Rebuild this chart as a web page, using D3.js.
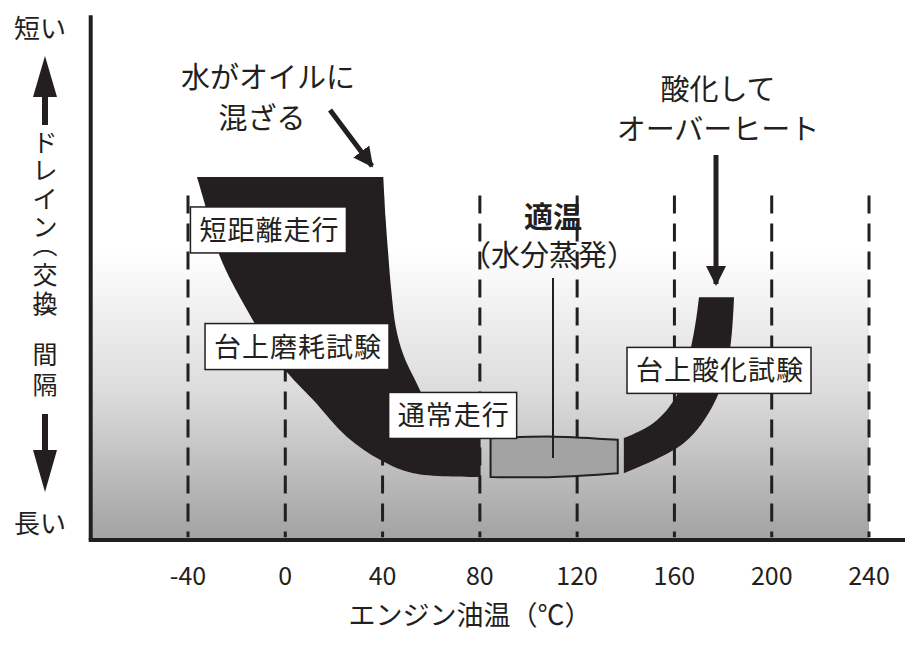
<!DOCTYPE html>
<html><head><meta charset="utf-8">
<script src="https://cdn.jsdelivr.net/npm/d3@7"></script>
<style>body{margin:0;background:#fff}text{font-family:"Noto Sans CJK JP","Noto Sans",sans-serif;fill:#231f20}</style>
</head><body><svg id="c" width="918" height="658"></svg>
<script>
const ticks=[-40,0,40,80,120,160,200,240];
const leftOuter=[[-36.3,68.5],[-31.5,61],[-26.8,53.4],[-15.7,43.4],[-0.9,32.6],[11.5,26.4],[25.5,19.4],[39.1,15.1],[52.7,12.6],[80.3,11.9]];
const leftInner=[[40.3,68.5],[41.2,61],[42.2,54.7],[43.6,47],[45.5,40],[48.5,35],[52.7,30.8],[60.9,24.0],[70,20.8],[80.3,19.4]];
const grayTop=[[84.4,19.2],[110.4,19.5],[136.7,18.9]];
const grayBottom=[[136.7,12.6],[110.4,11.9],[84.4,11.9]];
const rightOuter=[[139.2,12.6],[163.9,18.3],[176.3,25.8],[182.5,34.9],[184.5,45.8]];
const rightInner=[[170.1,45.8],[168,39.1],[161.4,27.7],[151.5,22.1],[139.2,19.2]];
const boxLabels=[{t:"短距離走行",x:-39,y:58.5},{t:"台上磨耗試験",x:-33,y:36.5},{t:"通常走行",x:42.5,y:23.5},{t:"台上酸化試験",x:140.5,y:32}];

const svg=d3.select("#c");
const x=d3.scaleLinear().domain([-40,240]).range([188,869]);
const y=d3.scaleLinear().domain([0,100]).range([540,10]);
const ink="#231f20";
const defs=svg.append("defs");
const g=defs.append("linearGradient").attr("id","bg").attr("x1",0).attr("y1",0).attr("x2",0).attr("y2",1);
g.append("stop").attr("offset","0").attr("stop-color","#fff");
g.append("stop").attr("offset","0.22").attr("stop-color","#fff");
g.append("stop").attr("offset","0.6").attr("stop-color","#dcdcdc");
g.append("stop").attr("offset","1").attr("stop-color","#a2a2a2");
svg.append("rect").attr("x",x(-80)).attr("y",y(70)).attr("width",x(240)-x(-80)).attr("height",y(0)-y(70)).attr("fill","url(#bg)");
svg.selectAll(".d").data(ticks).join("line").attr("x1",d=>x(d)).attr("x2",d=>x(d)).attr("y1",y(65)).attr("y2",y(0.5))
 .attr("stroke",ink).attr("stroke-width",3).attr("stroke-dasharray","18,10");
const line=d3.line().x(d=>x(d[0])).y(d=>y(d[1])).curve(d3.curveCatmullRom);
function band(a,b,fill,stroke){
  const p=line(a)+"L"+line(b).slice(1)+"Z";
  svg.append("path").attr("d",p).attr("fill",fill).attr("stroke",stroke||"none").attr("stroke-width",2);
}
band(leftOuter,leftInner.slice().reverse(),ink);
band(grayTop,grayBottom,"#a3a3a3",ink);
band(rightOuter,rightInner,ink);
svg.append("line").attr("x1",x(-80)).attr("x2",x(-80)).attr("y1",y(99)).attr("y2",y(0)).attr("stroke",ink).attr("stroke-width",4);
svg.append("line").attr("x1",x(-80)-2).attr("x2",905).attr("y1",y(0)).attr("y2",y(0)).attr("stroke",ink).attr("stroke-width",4);
svg.selectAll(".t").data(ticks).join("text").attr("x",d=>x(d)).attr("y",585).attr("text-anchor","middle").attr("font-size",25).text(d=>d);
svg.append("text").attr("x",470).attr("y",625).attr("text-anchor","middle").attr("font-size",27).text("エンジン油温（℃）");
const labG=svg.append("g");
boxLabels.forEach(b=>{
  const r=labG.append("rect");
  const t=labG.append("text").attr("x",x(b.x)+9).attr("y",y(b.y)+10).attr("font-size",27).attr("letter-spacing",1).text(b.t);
  const bb=t.node().getBBox();
  r.attr("x",bb.x-9).attr("y",y(b.y)-23).attr("width",bb.width+16).attr("height",46)
   .attr("fill","#fff").attr("stroke",ink).attr("stroke-width",1.5);
});
function txt(s,cx,cy,fs,w){svg.append("text").attr("x",cx).attr("y",cy).attr("text-anchor","middle").attr("font-size",fs).attr("font-weight",w||400).text(s);}
txt("水がオイルに",268,88,29);txt("混ざる",262,129,29);
txt("酸化して",718,100,29);txt("オーバーヒート",718,140,29);
txt("適温",553,228,29,700);txt("（水分蒸発）",549,266,29);
svg.append("line").attr("x1",553).attr("x2",553).attr("y1",278).attr("y2",458).attr("stroke",ink).attr("stroke-width",2);
defs.append("marker").attr("id","ah").attr("viewBox","0 0 10 10").attr("refX",9).attr("refY",5).attr("markerWidth",4).attr("markerHeight",4.5).attr("orient","auto")
 .append("path").attr("d","M0,0L10,5L0,10Z").attr("fill",ink);
svg.append("line").attr("x1",330).attr("y1",110).attr("x2",372).attr("y2",166).attr("stroke",ink).attr("stroke-width",5).attr("marker-end","url(#ah)");
svg.append("line").attr("x1",716).attr("y1",155).attr("x2",716).attr("y2",284).attr("stroke",ink).attr("stroke-width",5).attr("marker-end","url(#ah)");
txt("短い",40,38,26);txt("長い",40,533,26);
svg.append("polygon").attr("points","45,56 33,97 57,97").attr("fill",ink);
svg.append("rect").attr("x",42).attr("y",95).attr("width",6).attr("height",30).attr("fill",ink);
const chars=["ド","レ","イ","ン","︵","交","換","︶","間","隔"];
const cy=[152,180,208,236,254,284,313,328,364,394];
chars.forEach((c,i)=>txt(c,45,cy[i],25));
svg.append("rect").attr("x",42).attr("y",414).attr("width",6).attr("height",36).attr("fill",ink);
svg.append("polygon").attr("points","45,492 33,450 57,450").attr("fill",ink);
</script></body></html>
